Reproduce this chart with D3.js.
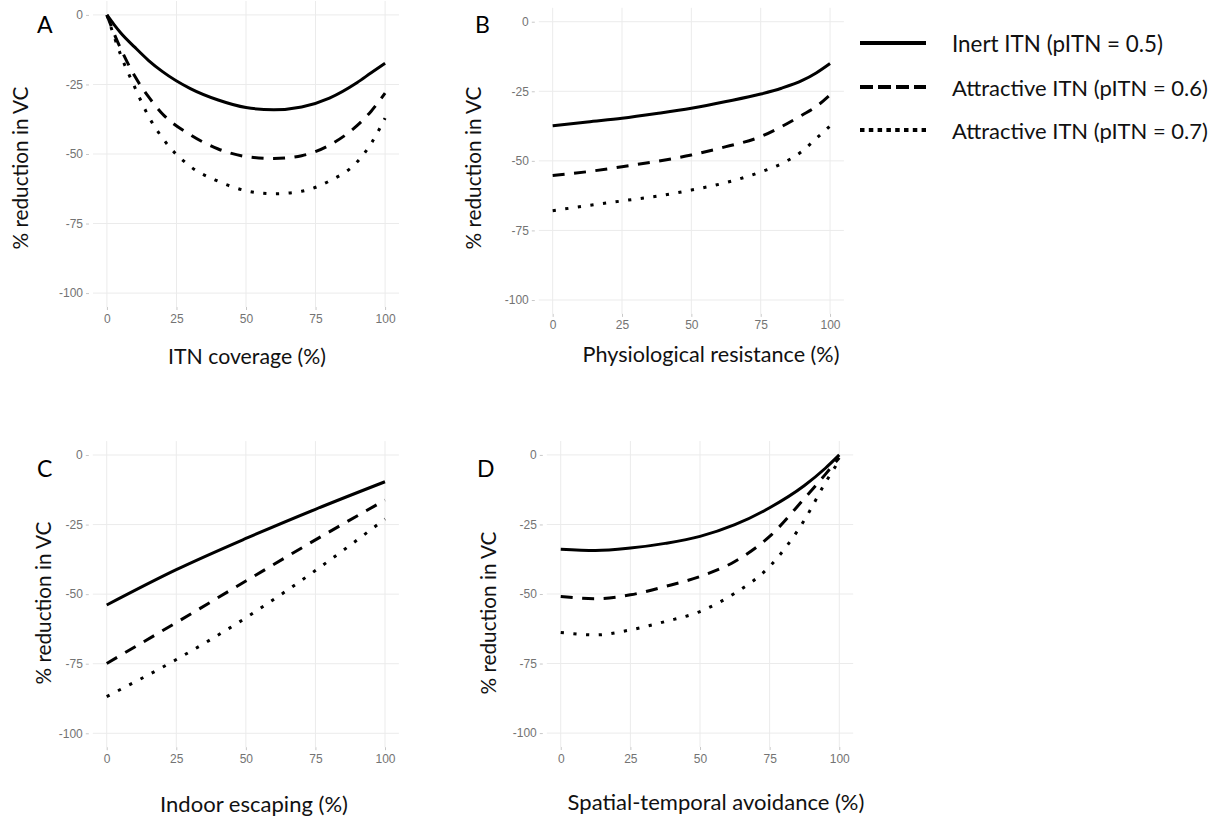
<!DOCTYPE html>
<html>
<head>
<meta charset="utf-8">
<script src="https://cdn.jsdelivr.net/npm/d3@7"></script>
<style>
  html, body { margin: 0; padding: 0; background: #ffffff; }
  svg { display: block; }
</style>
</head>
<body>
<svg id="chart" width="1217" height="818"></svg>
<script>
// ---------------- DATA ----------------
const seriesNames = ["Inert ITN (pITN = 0.5)", "Attractive ITN (pITN = 0.6)", "Attractive ITN (pITN = 0.7)"];
const xTicks = [0, 25, 50, 75, 100];
const yTicks = [0, -25, -50, -75, -100];

// Panel A: ITN coverage (%)
const xA = [0, 2.5, 5, 10, 15, 20, 30, 40, 50, 60, 70, 80, 90, 95, 100];
const aInert  = [0, -3.4, -6.5, -11.6, -16.4, -20.4, -26.5, -30.6, -33.3, -34.1, -33.1, -29.9, -24.3, -20.8, -17.4];
const aAttr06 = [0, -6.5, -12.2, -22.0, -29.5, -35.6, -43.1, -48.2, -50.9, -51.6, -50.6, -46.8, -39.7, -34.6, -28.1];
const aAttr07 = [0, -7.5, -14.5, -26.0, -36.5, -44.3, -54.5, -59.8, -63.2, -64.3, -63.4, -59.7, -52.8, -46.2, -37.1];

// Panel B: Physiological resistance (%)
const xB = [0, 12.5, 25, 37.5, 50, 62.5, 75, 82.5, 90, 95, 100];
const bInert  = [-37.4, -36.0, -34.7, -33.0, -31.1, -28.7, -26.0, -23.9, -21.1, -18.4, -15.0];
const bAttr06 = [-55.3, -53.9, -52.1, -50.2, -47.9, -44.9, -41.3, -37.7, -33.5, -30.5, -26.3];
const bAttr07 = [-67.9, -66.1, -64.4, -62.7, -60.5, -57.8, -54.0, -51.0, -46.5, -42.0, -37.5];

// Panel C: Indoor escaping (%)
const xC = [0, 25, 50, 75, 100];
const cInert  = [-53.9, -41.2, -30.0, -19.5, -9.6];
const cAttr06 = [-74.9, -60.2, -45.3, -30.5, -16.2];
const cAttr07 = [-86.8, -73.5, -58.5, -41.5, -23.0];

// Panel D: Spatial-temporal avoidance (%)
const xD = [0, 12.5, 25, 37.5, 50, 62.5, 75, 87.5, 95, 100];
const dInert  = [-33.9, -34.4, -33.5, -31.8, -29.3, -25.1, -19.0, -11.0, -4.8, 0];
const dAttr06 = [-50.9, -51.7, -50.3, -47.3, -43.7, -38.3, -29.3, -15.6, -7.0, -1.0];
const dAttr07 = [-63.8, -64.7, -62.9, -59.9, -56.3, -49.7, -40.1, -23.4, -10.0, -2.0];

const panelLetters = ["A", "B", "C", "D"];
const xTitles = ["ITN coverage (%)", "Physiological resistance (%)", "Indoor escaping (%)", "Spatial-temporal avoidance (%)"];
const yTitle = "% reduction in VC";

// ---------------- LAYOUT / STYLE ----------------
const panels = [
  { x: xA, ys: [aInert, aAttr06, aAttr07], left: 93,    right: 399,   top: 1,     bottom: 307,
    letter: [37, 33], xt: [247, 364, 158], yt: [20, 168, 163] },
  { x: xB, ys: [bInert, bAttr06, bAttr07], left: 538.8, right: 843.9, top: 7.8,   bottom: 313.9,
    letter: [475, 33], xt: [711, 362, 257], yt: [473, 168, 163] },
  { x: xC, ys: [cInert, cAttr06, cAttr07], left: 92.8,  right: 398.9, top: 441.1, bottom: 747.2,
    letter: [37, 477], xt: [254, 812, 188], yt: [43, 603, 163] },
  { x: xD, ys: [dInert, dAttr06, dAttr07], left: 546.8, right: 853.2, top: 441,   bottom: 747,
    letter: [477, 477], xt: [716, 810, 297], yt: [488, 613, 163] }
];
const dashes = [null, "12,9.5", "3.2,9.5"];
const legendDashes = [null, "13,5", "4.5,4.3"];
const titleFont = "Lato, 'Open Sans', sans-serif";
const tickFont = "'Liberation Sans', Arial, sans-serif";
const tickFmt = d => String(d);   // plain hyphen-minus as in the reference

const svg = d3.select("#chart");

function fitText(sel, target) {
  const base = parseFloat(sel.attr("font-size"));
  const w = sel.node().getComputedTextLength();
  if (w > 0) sel.attr("font-size", (base * target / w).toFixed(2));
}

panels.forEach((p, i) => {
  const xs = d3.scaleLinear().domain([-5, 105]).range([p.left, p.right]);
  const ys = d3.scaleLinear().domain([-105, 5]).range([p.bottom, p.top]);
  const g = svg.append("g");

  // grid
  g.append("g").selectAll("line").data(xTicks).join("line")
    .attr("x1", d => xs(d)).attr("x2", d => xs(d))
    .attr("y1", p.top).attr("y2", p.bottom)
    .attr("stroke", "#ebebeb").attr("stroke-width", 1);
  g.append("g").selectAll("line").data(yTicks).join("line")
    .attr("y1", d => ys(d)).attr("y2", d => ys(d))
    .attr("x1", p.left).attr("x2", p.right)
    .attr("stroke", "#ebebeb").attr("stroke-width", 1);

  // axes
  const ax = g.append("g").attr("transform", `translate(0,${p.bottom})`)
    .call(d3.axisBottom(xs).tickValues(xTicks).tickFormat(tickFmt).tickSize(3).tickPadding(4));
  const ay = g.append("g").attr("transform", `translate(${p.left - 4},0)`)
    .call(d3.axisLeft(ys).tickValues(yTicks).tickFormat(tickFmt).tickSize(3).tickPadding(3));
  [ax, ay].forEach(a => {
    a.select(".domain").remove();
    a.selectAll(".tick line").attr("stroke", "#c8c8c8");
    a.selectAll(".tick text").attr("fill", "#737373")
      .style("font-family", tickFont).style("font-size", "12px");
  });

  // lines
  const line = d3.line()
    .x(d => xs(d[0])).y(d => ys(d[1]))
    .curve(d3.curveMonotoneX);
  p.ys.forEach((vals, k) => {
    const pts = p.x.map((xv, j) => [xv, vals[j]]);
    g.append("path").datum(pts)
      .attr("d", line)
      .attr("fill", "none")
      .attr("stroke", "#000")
      .attr("stroke-width", 3)
      .attr("stroke-linecap", "butt")
      .attr("stroke-dasharray", dashes[k]);
  });

  // panel letter
  g.append("text").attr("x", p.letter[0]).attr("y", p.letter[1])
    .attr("font-family", titleFont).attr("font-size", 23).attr("fill", "#000")
    .text(panelLetters[i]);

  // x title
  const xt = g.append("text").attr("x", p.xt[0]).attr("y", p.xt[1])
    .attr("text-anchor", "middle")
    .attr("font-family", titleFont).attr("font-size", 21).attr("fill", "#111")
    .text(xTitles[i]);
  fitText(xt, p.xt[2]);

  // y title
  const yt = g.append("text")
    .attr("transform", `translate(${p.yt[0]},${p.yt[1]}) rotate(-90)`)
    .attr("text-anchor", "middle").attr("dominant-baseline", "central")
    .attr("font-family", titleFont).attr("font-size", 21).attr("fill", "#111")
    .text(yTitle);
  fitText(yt, p.yt[2]);
});

// legend
const legendRows = [43, 87, 130];
const lg = svg.append("g");
seriesNames.forEach((name, k) => {
  lg.append("line")
    .attr("x1", 860).attr("x2", 926)
    .attr("y1", legendRows[k]).attr("y2", legendRows[k])
    .attr("stroke", "#000").attr("stroke-width", 4)
    .attr("stroke-dasharray", legendDashes[k]);
  const t = lg.append("text")
    .attr("x", 952).attr("y", legendRows[k])
    .attr("dominant-baseline", "central")
    .attr("font-family", titleFont).attr("font-size", 21).attr("fill", "#111")
    .text(name);
  if (k === 0) fitText(t, 211);
  else fitText(t, 256);
});
</script>
</body>
</html>
